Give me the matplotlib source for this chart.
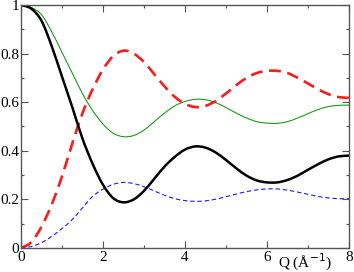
import matplotlib
matplotlib.use("Agg")
import matplotlib.pyplot as plt
import numpy as np
from matplotlib.path import Path
from matplotlib.patches import PathPatch
from matplotlib.ticker import MultipleLocator, FixedLocator

q = [0.0, 0.25, 0.5, 0.75, 1.0, 1.25, 1.5, 1.75, 2.0, 2.25, 2.5, 2.75, 3.0, 3.25, 3.5, 3.75,
     4.0, 4.25, 4.5, 4.75, 5.0, 5.25, 5.5, 5.75, 6.0, 6.25, 6.5, 6.75, 7.0, 7.25, 7.5, 7.75, 8.0]

black = [1.0, 0.985, 0.935, 0.83, 0.705, 0.58, 0.45, 0.345, 0.26, 0.205, 0.188, 0.2, 0.235, 0.285,
         0.335, 0.375, 0.405, 0.418, 0.413, 0.393, 0.362, 0.328, 0.298, 0.278, 0.27, 0.27, 0.28,
         0.298, 0.322, 0.345, 0.365, 0.377, 0.38]

red = [0.0, 0.024, 0.088, 0.18, 0.295, 0.43, 0.555, 0.655, 0.735, 0.79, 0.812, 0.80, 0.765, 0.715,
       0.665, 0.622, 0.593, 0.58, 0.585, 0.605, 0.636, 0.67, 0.70, 0.72, 0.729, 0.729, 0.72, 0.70,
       0.677, 0.653, 0.633, 0.621, 0.618]

green = [1.0, 0.99, 0.96, 0.89, 0.805, 0.72, 0.635, 0.565, 0.51, 0.472, 0.458, 0.463, 0.485, 0.52,
         0.555, 0.585, 0.603, 0.612, 0.61, 0.598, 0.578, 0.555, 0.535, 0.52, 0.514, 0.513, 0.52,
         0.535, 0.553, 0.57, 0.582, 0.587, 0.588]

blue = [0.0, 0.006, 0.022, 0.048, 0.08, 0.117, 0.165, 0.213, 0.242, 0.262, 0.27, 0.265, 0.252,
        0.235, 0.217, 0.203, 0.195, 0.192, 0.194, 0.201, 0.211, 0.222, 0.232, 0.239, 0.243, 0.243,
        0.238, 0.23, 0.221, 0.212, 0.206, 0.203, 0.203]

xticks = [0, 2, 4, 6, 8]
xticklabels = ["0", "2", "4", "6", "8"]
yticks = [0, 0.2, 0.4, 0.6, 0.8, 1.0]
yticklabels = ["0", "0.2", "0.4", "0.6", "0.8", "1"]
xlabel = "Q (Å$^{-1}$)"

plt.rcParams['font.family'] = ['Liberation Serif', 'DejaVu Serif']


def smooth_curve(ax, x, y, **kw):
    """Draw a smooth (Catmull-Rom as cubic Bezier) curve through the data points."""
    p = np.column_stack([x, y]).astype(float)
    ext = np.vstack([p[0], p, p[-1]])
    verts = [tuple(p[0])]
    codes = [Path.MOVETO]
    for i in range(len(p) - 1):
        p0, p1, p2, p3 = ext[i], ext[i + 1], ext[i + 2], ext[i + 3]
        c1 = p1 + (p2 - p0) / 6.0
        c2 = p2 - (p3 - p1) / 6.0
        verts += [tuple(c1), tuple(c2), tuple(p2)]
        codes += [Path.CURVE4] * 3
    patch = PathPatch(Path(verts, codes), fill=False, transform=ax.transData, **kw)
    ax.add_patch(patch)


fig = plt.figure(figsize=(3.54, 2.72), dpi=100)
ax = fig.add_axes([21/354, 24/272, 328/354, 243/272])

smooth_curve(ax, q, green, edgecolor='#1a9a1a', lw=0.8)
smooth_curve(ax, q, blue, edgecolor='#1a1aff', lw=0.8, linestyle=(0, (4, 2.5)))
smooth_curve(ax, q, red, edgecolor='#ff1a1a', lw=1.9, linestyle=(0, (4.5, 2.5)))
smooth_curve(ax, q, black, edgecolor='black', lw=1.8)

ax.set_xlim(0, 8)
ax.set_ylim(0, 1)
ax.xaxis.set_major_locator(FixedLocator(xticks))
ax.set_xticklabels(xticklabels)
ax.yaxis.set_major_locator(FixedLocator(yticks))
ax.set_yticklabels(yticklabels)
ax.xaxis.set_minor_locator(MultipleLocator(1))
ax.yaxis.set_minor_locator(MultipleLocator(0.1))

ax.tick_params(which='both', direction='in', top=True, right=True, color='#555555',
               labelsize=11, width=0.8)
ax.tick_params(which='major', length=5)
ax.tick_params(which='minor', length=2.5)
ax.tick_params(axis='x', pad=2)
ax.tick_params(axis='y', pad=1.5)
for s in ax.spines.values():
    s.set_color('#555555')
    s.set_linewidth(1.0)

ax.text(0.948, -0.08, xlabel, transform=ax.transAxes, ha='right', va='baseline',
        fontsize=11)

fig.savefig("out.png", dpi=100)
